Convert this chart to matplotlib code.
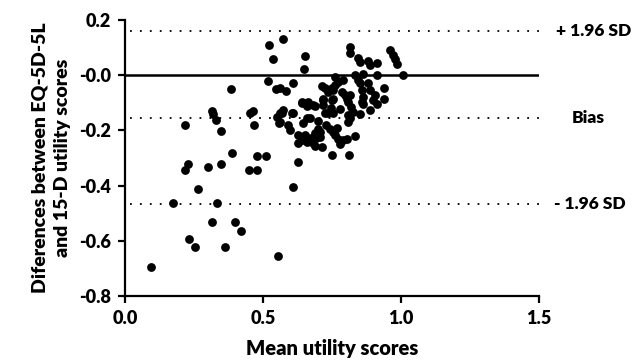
import matplotlib
matplotlib.use('Agg')
import matplotlib.pyplot as plt
import numpy as np

plt.rcParams['font.family'] = ['Lato', 'DejaVu Sans']
plt.rcParams['font.weight'] = 'bold'

# mean utility scores (x) and differences EQ-5D-5L minus 15-D (y)
mean_scores = [
    0.093, 0.173, 0.219, 0.229, 0.219, 0.234, 0.255, 0.264, 0.300, 0.314,
    0.320, 0.330, 0.349, 0.349, 0.334, 0.314, 0.363, 0.384, 0.389, 0.399,
    0.419, 0.449, 0.478, 0.478, 0.513, 0.455, 0.465, 0.469, 0.519, 0.549,
    0.558, 0.555, 0.537, 0.523, 0.574, 0.652, 0.649, 0.610, 0.583, 0.562,
    0.815, 0.815, 0.845, 0.851, 0.882, 0.912, 0.888, 0.960, 0.972, 0.978,
    0.987, 1.006, 0.912, 0.864, 0.833, 0.845, 0.761, 0.773, 0.791, 0.713,
    0.725, 0.737, 0.749, 0.755, 0.761, 0.785, 0.815, 0.851, 0.858, 0.864,
    0.882, 0.888, 0.938, 0.938, 0.906, 0.912, 0.900, 0.858, 0.864, 0.888,
    0.851, 0.821, 0.827, 0.809, 0.803, 0.797, 0.779, 0.755, 0.718, 0.718,
    0.688, 0.658, 0.640, 0.664, 0.725, 0.737, 0.755, 0.809, 0.815, 0.809,
    0.610, 0.574, 0.562, 0.658, 0.670, 0.646, 0.700, 0.707, 0.743, 0.755,
    0.628, 0.652, 0.676, 0.694, 0.707, 0.658, 0.682, 0.713, 0.761, 0.773,
    0.779, 0.791, 0.803, 0.833, 0.749, 0.813, 0.628, 0.609, 0.550, 0.568,
    0.604, 0.562, 0.640, 0.658, 0.682, 0.718, 0.749, 0.592, 0.600, 0.628,
    0.690, 0.730, 0.700, 0.745, 0.770, 0.690, 0.640,
]
differences = [
    -0.695, -0.464, -0.182, -0.321, -0.343, -0.594, -0.623, -0.412, -0.332, -0.131,
    -0.142, -0.161, -0.201, -0.322, -0.463, -0.533, -0.623, -0.051, -0.281, -0.533,
    -0.564, -0.342, -0.342, -0.292, -0.292, -0.139, -0.130, -0.182, -0.022, -0.051,
    -0.172, -0.655, 0.060, 0.110, 0.130, 0.070, 0.021, -0.028, -0.057, -0.047,
    0.103, 0.081, 0.061, 0.048, 0.051, 0.042, 0.036, 0.091, 0.073, 0.057,
    0.040, 0.000, 0.000, 0.004, 0.000, -0.018, -0.008, -0.024, -0.018, -0.040,
    -0.048, -0.061, -0.045, -0.055, -0.036, -0.061, -0.073, -0.030, -0.055, -0.079,
    -0.030, -0.055, -0.048, -0.088, -0.073, -0.103, -0.091, -0.097, -0.105, -0.127,
    -0.142, -0.115, -0.133, -0.097, -0.085, -0.073, -0.121, -0.088, -0.088, -0.109,
    -0.113, -0.113, -0.097, -0.097, -0.139, -0.139, -0.139, -0.145, -0.157, -0.170,
    -0.139, -0.127, -0.139, -0.157, -0.157, -0.173, -0.194, -0.206, -0.197, -0.206,
    -0.218, -0.218, -0.227, -0.227, -0.224, -0.242, -0.246, -0.261, -0.218, -0.230,
    -0.248, -0.234, -0.230, -0.222, -0.291, -0.291, -0.313, -0.407, -0.152, -0.139,
    -0.139, -0.170, -0.100, -0.100, -0.109, -0.091, -0.091, -0.180, -0.200, -0.245,
    -0.255, -0.180, -0.165, -0.120, -0.190, -0.210, -0.235,
]

upper_loa = 0.16
bias = -0.156
lower_loa = -0.466

x_ticks = [0.0, 0.5, 1.0, 1.5]
x_tick_labels = ['0.0', '0.5', '1.0', '1.5']
y_ticks = [-0.8, -0.6, -0.4, -0.2, 0.0, 0.2]
y_tick_labels = ['-0.8', '-0.6', '-0.4', '-0.2', '-0.0', '0.2']

fig = plt.figure(figsize=(6.34, 3.61), dpi=100)
ax = fig.add_axes([0.197, 0.180, 0.653, 0.765])

ax.scatter(mean_scores, differences, s=40, color='black', zorder=3, linewidths=0)

# zero line and limits of agreement
ax.plot([0, 1.5], [0, 0], color='black', lw=1.8)
for yv in (upper_loa, bias, lower_loa):
    ax.plot([0.02, 1.5], [yv, yv], color='black', lw=1.3, linestyle=(0, (1, 4.5)))

ax.text(1.563, upper_loa, '+ 1.96 SD', fontsize=12.5, fontweight='heavy',
        va='center', ha='left', clip_on=False)
ax.text(1.62, bias, 'Bias', fontsize=12.5, fontweight='heavy',
        va='center', ha='left', clip_on=False)
ax.text(1.555, lower_loa, '- 1.96 SD', fontsize=12.5, fontweight='heavy',
        va='center', ha='left', clip_on=False)

ax.set_xlim(0, 1.5)
ax.set_ylim(-0.8, 0.2)
ax.set_xticks(x_ticks)
ax.set_xticklabels(x_tick_labels)
ax.set_yticks(y_ticks)
ax.set_yticklabels(y_tick_labels)

for side in ('top', 'right'):
    ax.spines[side].set_visible(False)
for side in ('left', 'bottom'):
    ax.spines[side].set_linewidth(1.6)
ax.tick_params(direction='out', length=5, width=1.6, labelsize=13, pad=5)
for lbl in ax.get_xticklabels() + ax.get_yticklabels():
    lbl.set_fontweight('heavy')

ax.set_xlabel('Mean utility scores', fontsize=14.5, fontweight='heavy', labelpad=9)
ax.set_ylabel('Diferences between EQ-5D-5L\nand 15-D utility scores', fontsize=14,
              fontweight='heavy', labelpad=6, linespacing=1.4)

fig.savefig('out.png', dpi=100)
